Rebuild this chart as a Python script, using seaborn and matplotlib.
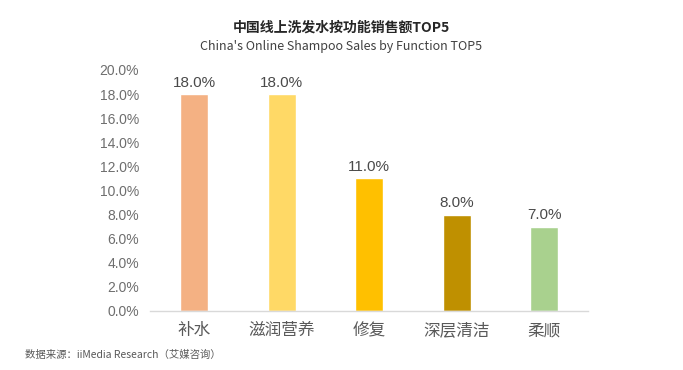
import matplotlib
matplotlib.use("Agg")
import matplotlib.pyplot as plt
import seaborn as sns
import pandas as pd
from matplotlib.ticker import FuncFormatter

categories = ["补水", "滋润营养", "修复", "深层清洁", "柔顺"]
values = [18.0, 18.0, 11.0, 8.0, 7.0]
colors = ["#F4B183", "#FFD966", "#FFC000", "#BF9000", "#A9D18E"]
yticks = [0, 2, 4, 6, 8, 10, 12, 14, 16, 18, 20]

sns.set_theme(style="white")
plt.rcParams['font.family'] = ['Noto Sans CJK SC', 'DejaVu Sans']

df = pd.DataFrame({"cat": categories, "val": values})

fig = plt.figure(figsize=(6.83, 3.70), dpi=100)
ax = fig.add_axes([0.22, 0.1595, 0.641, 0.6515])
sns.barplot(data=df, x="cat", y="val", hue="cat", palette=colors, order=categories,
            hue_order=categories, width=0.32, legend=False, ax=ax, saturation=1)

ax.set_xlim(-0.5, 4.5)
ax.set_ylim(0, 20)
ax.set_yticks(yticks)
ax.yaxis.set_major_formatter(FuncFormatter(lambda v, p: f"{v:.1f}%"))
ax.set_xlabel("")
ax.set_ylabel("")
for s in ["top", "right", "left"]:
    ax.spines[s].set_visible(False)
ax.spines["bottom"].set_color("#D9D9D9")
ax.spines["bottom"].set_linewidth(1)
ax.tick_params(axis="y", length=0, labelsize=10, labelcolor="#6E6E6E", pad=8)
ax.tick_params(axis="x", length=0, labelsize=12, labelcolor="#595959", pad=8)
for lab in ax.get_yticklabels():
    lab.set_family(['Liberation Sans', 'DejaVu Sans'])

for i, v in enumerate(values):
    ax.text(i, v + 0.35, f"{v:.1f}%", ha="center", va="bottom", fontsize=11,
            color="#4A4A4A", family=['Liberation Sans', 'DejaVu Sans'])

fig.text(0.5, 0.925, "中国线上洗发水按功能销售额TOP5", ha="center", va="center",
         fontsize=10, fontweight="bold", color="#262626")
fig.text(0.5, 0.875, "China's Online Shampoo Sales by Function TOP5", ha="center", va="center",
         fontsize=9, color="#404040")
fig.text(0.037, 0.042, "数据来源：iiMedia Research（艾媒咨询）", ha="left", va="center",
         fontsize=7.5, color="#595959")

fig.savefig("out.png", dpi=100, facecolor="white")
